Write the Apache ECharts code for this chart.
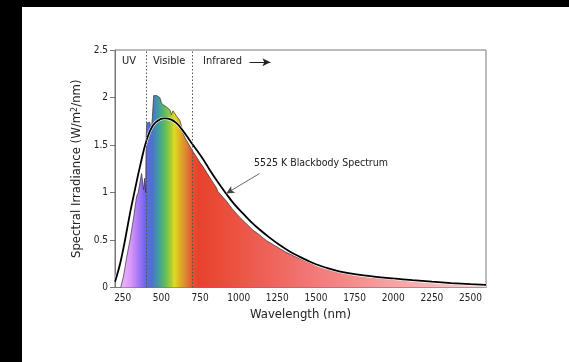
<!DOCTYPE html>
<html>
<head>
<meta charset="utf-8">
<script src="https://cdn.jsdelivr.net/npm/echarts@6/dist/echarts.min.js"></script>
<style>
  html, body { margin: 0; padding: 0; background: #000; }
  #chart { position: absolute; left: 22px; top: 7px; width: 547px; height: 355px; background: #fff; }
</style>
</head>
<body>
<div id="chart"></div>
<script>
// 5525 K blackbody curve (nm, W/m2/nm)
const bbWave = [200, 233, 265, 297, 329, 361, 404, 447, 490, 522, 560, 598, 630, 662, 700, 727, 770, 812, 865, 918, 970, 1027, 1080, 1135, 1200, 1263, 1330, 1393, 1450, 1500, 1586, 1650, 1750, 1875, 2000, 2125, 2250, 2375, 2500, 2600];
const bbVals = [0.06, 0.25, 0.5, 0.78, 1.03, 1.27, 1.55, 1.71, 1.77, 1.78, 1.77, 1.73, 1.67, 1.6, 1.51, 1.45, 1.35, 1.24, 1.11, 0.99, 0.88, 0.78, 0.69, 0.61, 0.525, 0.45, 0.38, 0.325, 0.28, 0.245, 0.198, 0.17, 0.14, 0.115, 0.095, 0.077, 0.061, 0.047, 0.035, 0.027];

// measured solar spectrum
const solarWave = [237, 255, 276, 297, 318, 330, 340, 350, 361, 372, 378, 385, 392, 398, 402, 406, 415, 425, 435, 442, 450, 458, 470, 480, 490, 495, 501, 515, 533, 545, 555, 565, 575, 587, 600, 619, 630, 640, 651, 662, 680, 705, 725, 748, 770, 791, 820, 856, 866, 876, 920, 960, 1006, 1050, 1091, 1130, 1178, 1240, 1307, 1400, 1500, 1625, 1750, 1875, 2000, 2125, 2250, 2375, 2500, 2600];
const solarVals = [0, 0.12, 0.32, 0.5, 0.71, 0.85, 0.96, 1.0, 1.1, 1.2, 1.12, 1.03, 1.15, 1.0, 1.6, 1.73, 1.75, 1.74, 1.65, 1.8, 2.02, 2.03, 2.02, 2.04, 2.0, 2.02, 1.94, 1.92, 1.9, 1.88, 1.87, 1.82, 1.86, 1.85, 1.8, 1.76, 1.7, 1.63, 1.58, 1.55, 1.5, 1.43, 1.38, 1.32, 1.27, 1.215, 1.14, 1.05, 1.01, 1.03, 0.91, 0.825, 0.74, 0.67, 0.605, 0.56, 0.495, 0.435, 0.37, 0.3, 0.235, 0.175, 0.135, 0.11, 0.09, 0.073, 0.057, 0.044, 0.032, 0.024];

const xTicks = [250, 500, 750, 1000, 1250, 1500, 1750, 2000, 2250, 2500];
const regionLines = [400, 700];

const font = '"DejaVu Sans Condensed", "DejaVu Sans", sans-serif';

// spectrum colours along the wavelength axis
const colourStops = [
    [237, '#f0b4ff'], [300, '#dc98fa'], [350, '#a878f6'], [400, '#6464ec'],
    [440, '#4c74c8'], [480, '#409ca0'], [520, '#5cba62'], [560, '#a4cc34'],
    [585, '#e2da22'], [620, '#dcb024'], [660, '#dc8432'], [700, '#e25232'],
    [740, '#e8422c'], [1000, '#eb5444'], [1500, '#f27a7a'], [2000, '#f8a2a2'],
    [2600, '#fdd2d2']
];
const w0 = solarWave[0], w1 = solarWave[solarWave.length - 1];
const fillGradient = new echarts.graphic.LinearGradient(0, 0, 1, 0,
    colourStops.map(s => ({ offset: (s[0] - w0) / (w1 - w0), color: s[1] })));

const chart = echarts.init(document.getElementById('chart'));
const option = {
    animation: false,
    grid: {
        left: 93,
        top: 43,
        right: 83,
        bottom: 74.5,
        show: true,
        borderColor: '#777',
        borderWidth: 1
    },
    xAxis: {
        type: 'value',
        min: 200,
        max: 2600,
        name: 'Wavelength (nm)',
        nameLocation: 'middle',
        nameGap: 19,
        nameTextStyle: { fontFamily: font, fontSize: 13, color: '#222' },
        axisLine: { lineStyle: { color: '#777' } },
        axisTick: { inside: true, length: 4, customValues: xTicks, lineStyle: { color: '#777' } },
        axisLabel: {
            customValues: xTicks,
            formatter: v => String(v),
            fontFamily: font,
            fontSize: 10,
            color: '#222',
            margin: 6
        },
        splitLine: { show: false }
    },
    yAxis: {
        type: 'value',
        min: 0,
        max: 2.5,
        interval: 0.5,
        name: '{a|Spectral Irradiance (W/m}{s|2}{a|/nm)}',
        nameLocation: 'middle',
        nameRotate: 90,
        nameGap: 28,
        nameTextStyle: {
            rich: {
                a: { fontFamily: font, fontSize: 13, color: '#222' },
                s: { fontFamily: font, fontSize: 9, color: '#222', verticalAlign: 'top', lineHeight: 13 }
            }
        },
        axisLine: { show: true, lineStyle: { color: '#777' } },
        axisTick: { show: true, length: 5, lineStyle: { color: '#777' } },
        axisLabel: { fontFamily: font, fontSize: 10, color: '#222', margin: 7 },
        splitLine: { show: false }
    },
    graphic: [
        { type: 'text', left: 100, top: 49, style: { text: 'UV', font: '11px ' + font, fill: '#222' } },
        { type: 'text', left: 131, top: 49, style: { text: 'Visible', font: '11px ' + font, fill: '#222' } },
        { type: 'text', left: 181, top: 49, style: { text: 'Infrared', font: '11px ' + font, fill: '#222' } },
        { type: 'text', left: 232, top: 151, style: { text: '5525 K Blackbody Spectrum', font: '10.5px ' + font, fill: '#222' } }
    ],
    series: [
        {
            name: 'Solar',
            type: 'line',
            data: solarWave.map((w, i) => [w, solarVals[i]]),
            showSymbol: false,
            lineStyle: { color: '#333', width: 0.7 },
            areaStyle: { color: fillGradient, opacity: 1 },
            z: 2,
            markLine: {
                silent: true,
                symbol: 'none',
                label: { show: false },
                lineStyle: { color: '#555', type: [1.5, 2], width: 1 },
                data: regionLines.map(v => ({ xAxis: v }))
            }
        },
        {
            name: 'halo',
            type: 'line',
            data: bbWave.map((w, i) => [w, bbVals[i]]),
            smooth: 0.4,
            showSymbol: false,
            silent: true,
            lineStyle: { color: '#fff', width: 3 },
            z: 3
        },
        {
            name: 'Blackbody',
            type: 'line',
            data: bbWave.map((w, i) => [w, bbVals[i]]),
            smooth: 0.4,
            showSymbol: false,
            lineStyle: { color: '#000', width: 1.8 },
            z: 4,
            markLine: {
                silent: true,
                symbol: ['none', 'arrow'],
                symbolSize: [6, 8],
                label: { show: false },
                data: [
                    [{ coord: [1135, 1.2], lineStyle: { color: '#444', width: 0.8, type: 'solid' } },
                     { coord: [920, 0.99] }],
                    [{ coord: [1070, 2.37], lineStyle: { color: '#222', width: 1, type: 'solid' } },
                     { coord: [1205, 2.37] }]
                ]
            }
        }
    ]
};
chart.setOption(option);
</script>
</body>
</html>
